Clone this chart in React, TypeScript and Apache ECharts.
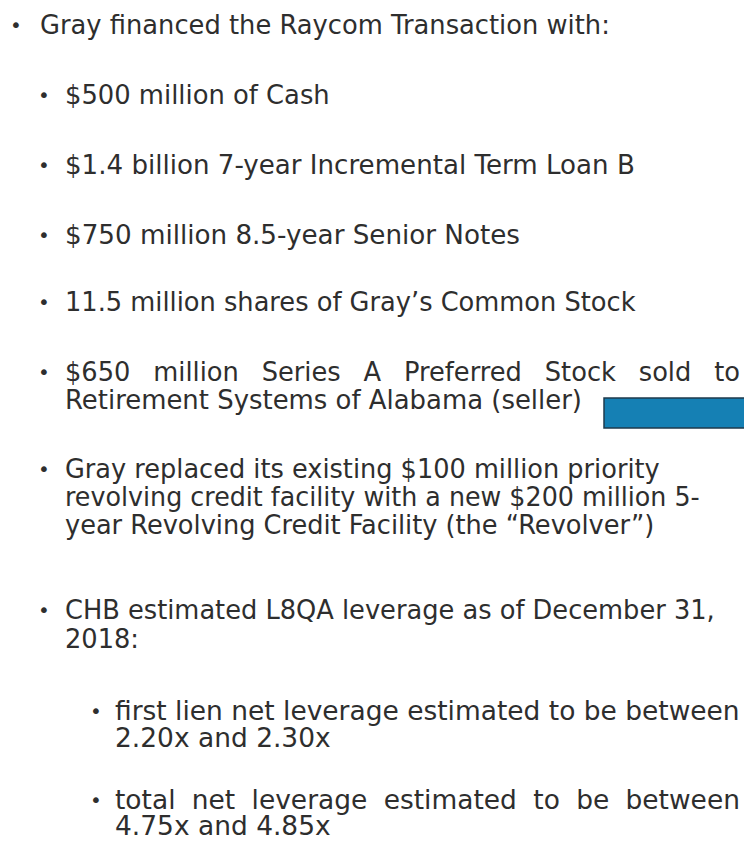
import React, { useEffect, useRef } from "react";
import * as echarts from "echarts";

// ---- content ----
const headline = "Gray financed the Raycom Transaction with:";
const financingItems: string[][] = [
  ["$500 million of Cash"],
  ["$1.4 billion 7-year Incremental Term Loan B"],
  ["$750 million 8.5-year Senior Notes"],
  ["11.5 million shares of Gray\u2019s Common Stock"],
  ["$650 million Series A Preferred Stock sold to", "Retirement Systems of Alabama (seller)"],
  [
    "Gray replaced its existing $100 million priority",
    "revolving credit facility with a new $200 million 5-",
    "year Revolving Credit Facility (the \u201cRevolver\u201d)",
  ],
  ["CHB estimated L8QA leverage as of December 31,", "2018:"],
];
const leverageItems: string[][] = [
  ["first lien net leverage estimated to be between", "2.20x and 2.30x"],
  ["total net leverage estimated to be between", "4.75x and 4.85x"],
];

// ---- layout (positions only) ----
const FONT_FAMILY = "DejaVu Sans";
const FONT_SIZE = 26;
const TEXT_COLOR = "#2e2e2e";
const headlineLayout = { bulletX: 10, x: 40, y: 25, right: 610 };
const financingLayout = [
  { bulletX: 38, x: 65, ys: [95], rights: [330] },
  { bulletX: 38, x: 65, ys: [165], rights: [635] },
  { bulletX: 38, x: 65, ys: [235], rights: [520] },
  { bulletX: 38, x: 65, ys: [302], rights: [636] },
  { bulletX: 38, x: 65, ys: [372, 400], rights: [740, 582], justify: [true, false] },
  { bulletX: 38, x: 65, ys: [469, 497, 525], rights: [660, 700, 655] },
  { bulletX: 38, x: 65, ys: [610, 639], rights: [715, null] },
];
const leverageLayout = [
  { bulletX: 90, x: 115, ys: [711, 738], rights: [740, null] },
  { bulletX: 90, x: 115, ys: [800, 826], rights: [740, null], justify: [true, false] },
];

export default function App() {
  const ref = useRef<HTMLDivElement>(null);
  useEffect(() => {
    document.body.style.margin = "0";
    document.body.style.overflow = "hidden";
    if (!ref.current) return;
    const chart = echarts.init(ref.current, undefined, { renderer: "svg" });

    const canvas = document.createElement("canvas");
    const ctx = canvas.getContext("2d")!;
    const font = `${FONT_SIZE}px "${FONT_FAMILY}"`;
    ctx.font = font;
    const measure = (t: string) => ctx.measureText(t).width;

    const elements: any[] = [];
    const textEl = (text: string, x: number, y: number, scaleX = 1) => ({
      type: "text",
      x,
      y,
      scaleX,
      style: {
        text,
        font,
        fill: TEXT_COLOR,
        verticalAlign: "middle",
        textVerticalAlign: "middle",
      },
    });
    const bullet = (x: number, y: number) => ({
      type: "text",
      x,
      y,
      style: {
        text: "\u2022",
        font: `20px "${FONT_FAMILY}"`,
        fill: TEXT_COLOR,
        verticalAlign: "middle",
        textVerticalAlign: "middle",
      },
    });

    let lastScale = 1;
    const placeLine = (
      text: string,
      x: number,
      y: number,
      right: number | null,
      justify: boolean
    ) => {
      if (justify && right != null) {
        const words = text.split(" ");
        const s = lastScale;
        const widths = words.map((w) => measure(w) * s);
        const total = widths.reduce((a, b) => a + b, 0);
        const gap = (right - x - total) / (words.length - 1);
        let cx = x;
        words.forEach((w, i) => {
          elements.push(textEl(w, cx, y, s));
          cx += widths[i] + gap;
        });
      } else {
        let s = lastScale;
        if (right != null) {
          s = (right - x) / measure(text);
          lastScale = s;
        }
        elements.push(textEl(text, x, y, s));
      }
    };

    // headline
    elements.push(bullet(headlineLayout.bulletX, headlineLayout.y));
    placeLine(headline, headlineLayout.x, headlineLayout.y, headlineLayout.right, false);

    financingItems.forEach((lines, i) => {
      const L: any = financingLayout[i];
      elements.push(bullet(L.bulletX, L.ys[0]));
      lines.forEach((ln, j) => {
        placeLine(ln, L.x, L.ys[j], L.rights[j], !!(L.justify && L.justify[j]));
      });
    });

    leverageItems.forEach((lines, i) => {
      const L: any = leverageLayout[i];
      elements.push(bullet(L.bulletX, L.ys[0]));
      lines.forEach((ln, j) => {
        placeLine(ln, L.x, L.ys[j], L.rights[j], !!(L.justify && L.justify[j]));
      });
    });

    // blue box
    elements.push({
      type: "rect",
      shape: { x: 604, y: 398, width: 160, height: 30 },
      style: { fill: "#1580b4", stroke: "#1e3a4c", lineWidth: 1.5 },
    });

    chart.setOption({
      animation: false,
      backgroundColor: "#ffffff",
      graphic: { elements },
    });
    return () => chart.dispose();
  }, []);
  return <div ref={ref} style={{ width: 744, height: 843 }} />;
}
